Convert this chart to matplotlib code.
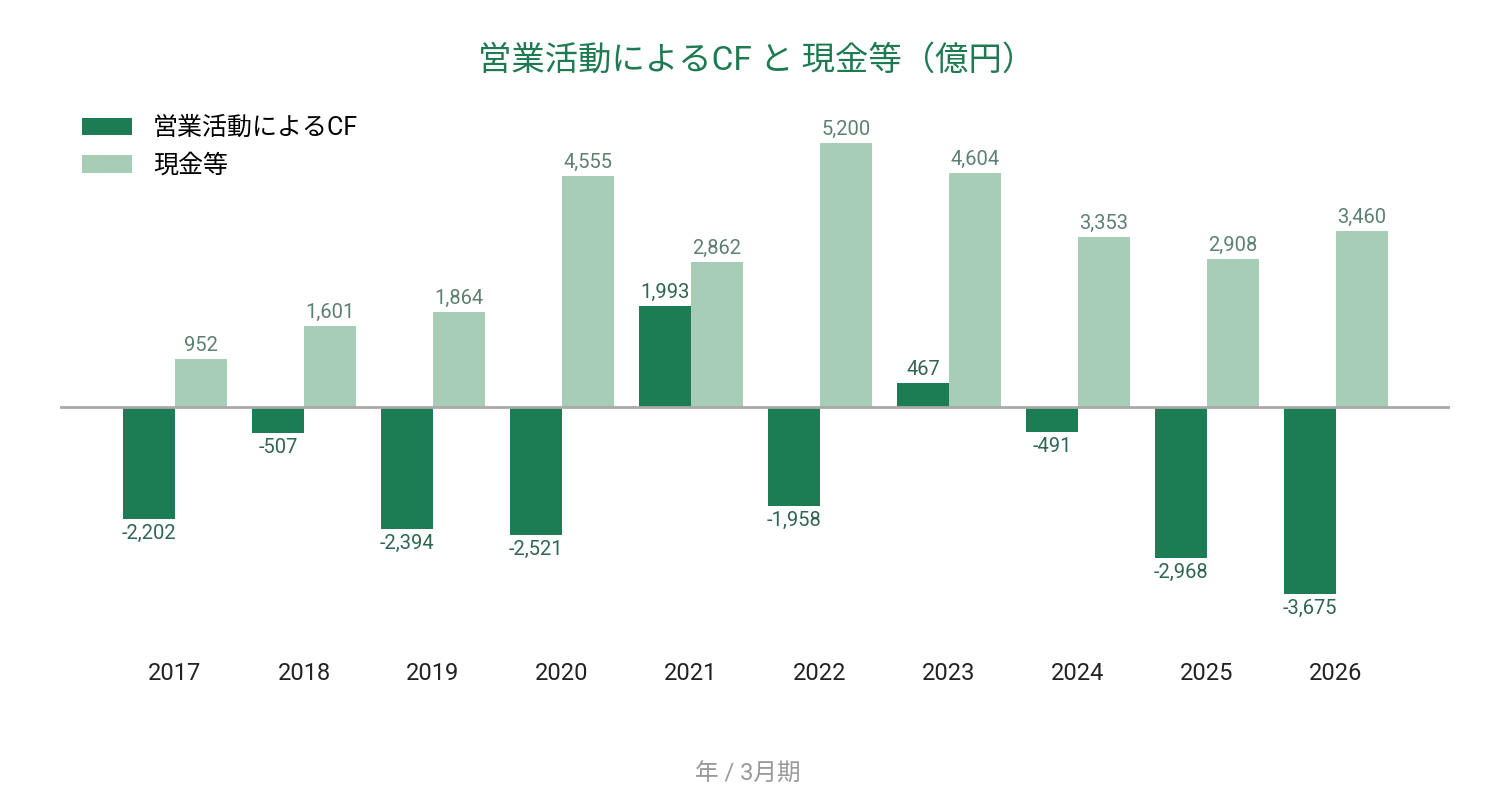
import numpy as np
import matplotlib.pyplot as plt

plt.rcParams['font.family'] = ['Roboto', 'Noto Sans CJK JP', 'DejaVu Sans']

years = ['2017', '2018', '2019', '2020', '2021', '2022', '2023', '2024', '2025', '2026']
op_cf = [-2202, -507, -2394, -2521, 1993, -1958, 467, -491, -2968, -3675]
cash = [952, 1601, 1864, 4555, 2862, 5200, 4604, 3353, 2908, 3460]

dark = '#1c7c54'
light = '#a8cdb7'

fig = plt.figure(figsize=(14.96, 7.99), dpi=100)
ax = fig.add_axes([60 / 1496, 1 - 640 / 799, 1390 / 1496, 540 / 799])

x = np.arange(len(years))
w = 0.403
b1 = ax.bar(x - w / 2, op_cf, w, color=dark, label='営業活動によるCF')
b2 = ax.bar(x + w / 2, cash, w, color=light, label='現金等')

ax.axhline(0, color='#aaaaaa', lw=2, zorder=3)

for xi, v in zip(x - w / 2, op_cf):
    off = 3 if v > 0 else -3.5
    ax.annotate('{:,}'.format(v), (xi, v), xytext=(0, off), textcoords='offset points',
                ha='center', va='bottom' if v > 0 else 'top', fontsize=14.5, color='#2f6650')
for xi, v in zip(x + w / 2, cash):
    ax.annotate('{:,}'.format(v), (xi, v), xytext=(0, 3), textcoords='offset points',
                ha='center', va='bottom', fontsize=14.5, color='#5e8070')

ax.set_xlim(-0.891, 9.884)
ax.set_ylim(-4589, 6047)
ax.set_xticks(x)
ax.set_xticklabels(years, fontsize=17, color='#222222')
ax.tick_params(axis='x', length=0, pad=16)
ax.set_yticks([])
for s in ax.spines.values():
    s.set_visible(False)

fig.text(757 / 1496, 1 - 61 / 799, '営業活動によるCF と 現金等（億円）', ha='center', va='center',
         fontsize=24, color='#1e7a50')
fig.text(748 / 1496, 1 - 774 / 799, '年 / 3月期', ha='center', va='center',
         fontsize=17, color='#999999')

ax.legend(loc='upper left', bbox_to_anchor=(82 / 1496, 1 - 116 / 799), bbox_transform=fig.transFigure,
          frameon=False, fontsize=18, handlelength=2.0, handleheight=0.68, handletextpad=0.84,
          labelspacing=0.55, borderaxespad=0, borderpad=0)

plt.savefig('out.png', dpi=100)
